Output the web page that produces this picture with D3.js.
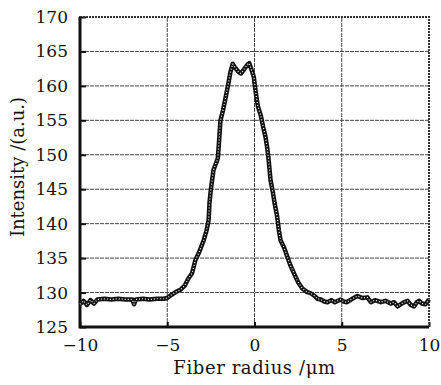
<!DOCTYPE html>
<html>
<head>
<meta charset="utf-8">
<script src="https://cdn.jsdelivr.net/npm/d3@7"></script>
<style>
  html, body { margin: 0; padding: 0; background: #fff; }
  svg { display: block; }
</style>
</head>
<body>
<svg id="chart"></svg>
<script>
// 读图得到的数据
const radiusVals = [-10, -9.8, -9.6, -9.4, -9.2, -9.0, -8.6, -8.2, -7.8, -7.4, -7.0, -6.9, -6.8, -6.4, -6.0, -5.6, -5.2, -5.0,
  -4.8, -4.5, -4.25, -4.0, -3.8, -3.58, -3.39, -3.15, -2.91, -2.75, -2.63, -2.58, -2.5, -2.35, -2.1, -2.03, -1.95, -1.8,
  -1.6, -1.48, -1.38, -1.25, -1.1, -0.9, -0.77, -0.6, -0.4, -0.3, -0.15, -0.04, 0.1, 0.2, 0.35, 0.5, 0.63, 0.73, 0.8,
  0.92, 1.05, 1.15, 1.3, 1.4, 1.49, 1.7, 1.88, 2.05, 2.26, 2.5, 2.74, 3.0, 3.22, 3.45, 3.6, 3.8, 4.0, 4.18, 4.4, 4.6,
  4.94, 5.1, 5.3, 5.6, 5.9, 6.2, 6.47, 6.67, 6.9, 7.24, 7.5, 7.8, 8.0, 8.2, 8.5, 8.77, 8.95, 9.15, 9.3, 9.44, 9.6, 9.8, 10.0];
const intensityVals = [128.3, 128.8, 128.2, 128.9, 128.4, 129.0, 129.1, 129.0, 129.1, 129.0, 129.0, 128.3, 129.0, 129.1, 129.0, 129.1, 129.1, 129.2,
  129.6, 130.1, 130.4, 131.0, 132.0, 132.8, 134.7, 136.0, 137.6, 139.0, 140.5, 143.0, 145.0, 147.8, 149.5, 152.0, 155.0, 156.5,
  159.0, 160.6, 162.0, 163.2, 162.6, 162.0, 161.8, 162.4, 163.1, 163.3, 162.2, 161.3, 158.5, 157.0, 155.8, 154.0, 152.6, 151.0, 149.5,
  146.3, 144.6, 143.0, 141.0, 139.0, 137.6, 136.5, 135.2, 134.0, 132.8, 131.5, 130.6, 130.1, 129.9, 129.5, 129.1, 129.0, 128.7, 128.6, 128.9, 128.6,
  129.0, 128.7, 128.6, 129.1, 129.5, 129.2, 129.3, 128.6, 128.9, 128.6, 128.8, 128.4, 128.6, 128.0, 128.5, 128.8, 128.2, 128.0, 128.6, 128.8, 128.4, 128.3, 129.0];
const xTicks = [-10, -5, 0, 5, 10];
const yTicks = [125, 130, 135, 140, 145, 150, 155, 160, 165, 170];
const xTitle = "Fiber radius /μm";
const yTitle = "Intensity /(a.u.)";

const width = 441, height = 385;
const margin = {top: 17, right: 12, bottom: 58, left: 80};
const font = "'DejaVu Serif', serif";

const svg = d3.select("#chart")
  .attr("width", width)
  .attr("height", height)
  .attr("viewBox", [0, 0, width, height]);

const x = d3.scaleLinear([-10, 10], [margin.left, width - margin.right]);
const y = d3.scaleLinear([125, 170], [height - margin.bottom, margin.top]);

const data = radiusVals.map((r, i) => ({r, v: intensityVals[i]}));

//网格
svg.append("g")
  .attr("stroke", "#444")
  .attr("stroke-width", 1)
  .attr("stroke-dasharray", "4,1")
  .selectAll("line")
  .data(xTicks.slice(1, -1))
  .join("line")
  .attr("x1", d => x(d)).attr("x2", d => x(d))
  .attr("y1", y(125)).attr("y2", y(170));

svg.append("g")
  .attr("stroke", "#444")
  .attr("stroke-width", 1)
  .attr("stroke-dasharray", "4,1")
  .selectAll("line")
  .data(yTicks.slice(1, -1))
  .join("line")
  .attr("x1", x(-10)).attr("x2", x(10))
  .attr("y1", d => y(d)).attr("y2", d => y(d));

//坐标轴
const xAxis = svg.append("g")
  .attr("transform", `translate(0,${y(125)})`)
  .call(d3.axisBottom(x).tickValues(xTicks).tickSize(-5).tickPadding(12)
    .tickFormat(d => d < 0 ? "\u2212" + Math.abs(d) : d));
xAxis.select(".domain").remove();
xAxis.selectAll("line").attr("stroke", "#111").attr("stroke-width", 2);
xAxis.selectAll("text").attr("font-family", font).attr("font-size", 17).attr("fill", "#111");

const yAxis = svg.append("g")
  .attr("transform", `translate(${x(-10)},0)`)
  .call(d3.axisLeft(y).tickValues(yTicks).tickSize(-6).tickPadding(12));
yAxis.select(".domain").remove();
yAxis.selectAll("line").attr("stroke", "#111").attr("stroke-width", 2);
yAxis.selectAll("text").attr("font-family", font).attr("font-size", 17).attr("fill", "#111");

//边框
svg.append("rect")
  .attr("x", x(-10)).attr("y", y(170))
  .attr("width", x(10) - x(-10)).attr("height", y(125) - y(170))
  .attr("fill", "none")
  .attr("stroke", "#333")
  .attr("stroke-width", 2)
  .attr("stroke-dasharray", "2,1");
svg.append("path")
  .attr("d", `M${x(-10)},${y(170)}V${y(125)}H${x(10)}`)
  .attr("fill", "none")
  .attr("stroke", "#111")
  .attr("stroke-width", 3);

//曲线
const line = d3.line().x(d => x(d.r)).y(d => y(d.v));
svg.append("path")
  .datum(data)
  .attr("fill", "none")
  .attr("stroke", "#111")
  .attr("stroke-width", 4.5)
  .attr("stroke-linejoin", "round")
  .attr("d", line);
svg.append("path")
  .datum(data)
  .attr("fill", "none")
  .attr("stroke", "#fff")
  .attr("stroke-width", 1.2)
  .attr("stroke-dasharray", "1,2")
  .attr("stroke-linejoin", "round")
  .attr("d", line);

//标题
svg.append("text")
  .attr("x", x(0))
  .attr("y", height - 11)
  .attr("text-anchor", "middle")
  .attr("font-family", font)
  .attr("font-size", 18)
  .attr("letter-spacing", 0.6)
  .attr("fill", "#111")
  .text(xTitle);

svg.append("text")
  .attr("transform", `translate(24,${(y(125) + y(170)) / 2 - 5}) rotate(-90)`)
  .attr("text-anchor", "middle")
  .attr("font-family", font)
  .attr("font-size", 18)
  .attr("fill", "#111")
  .text(yTitle);
</script>
</body>
</html>
